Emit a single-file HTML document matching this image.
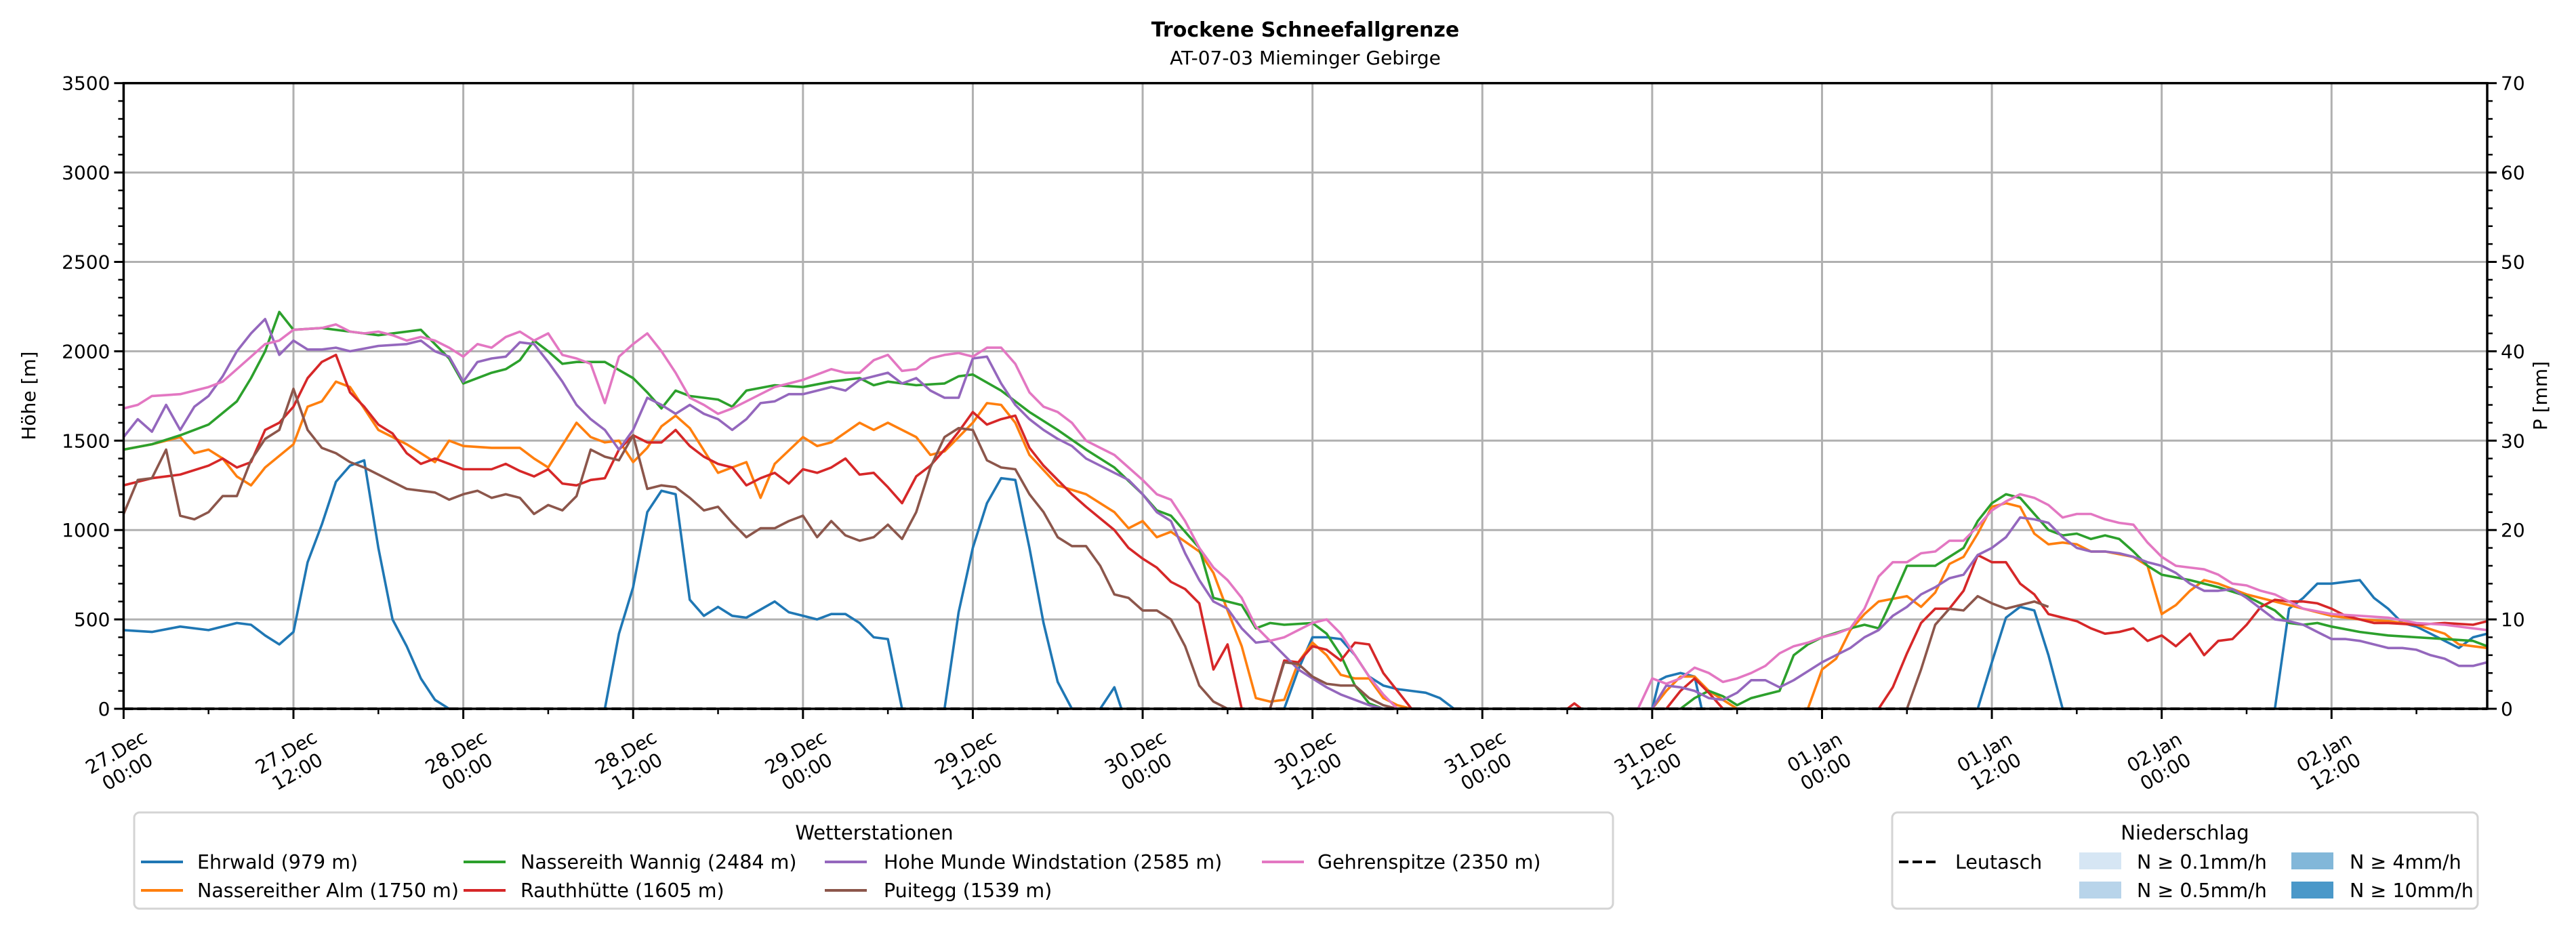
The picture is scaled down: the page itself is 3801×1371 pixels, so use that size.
<!DOCTYPE html>
<html><head><meta charset="utf-8"><style>
html,body{margin:0;padding:0;background:#fff;}
svg{display:block;font-family:"DejaVu Sans","Liberation Sans",sans-serif;}
</style></head><body>
<svg id="chart" width="3801" height="1371" viewBox="0 0 3801 1371" xmlns="http://www.w3.org/2000/svg">
<rect x="0" y="0" width="3801" height="1371" fill="#fff"/>
<text x="1926" y="54" text-anchor="middle" font-size="30" font-weight="bold">Trockene Schneefallgrenze</text>
<text x="1926" y="95" text-anchor="middle" font-size="28">AT-07-03 Mieminger Gebirge</text>
<g id="grid"></g>
<g id="series"></g>
<g id="axes"></g>
<text transform="translate(52,584) rotate(-90)" text-anchor="middle" font-size="28">Höhe [m]</text>
<text transform="translate(3758,584) rotate(-90)" text-anchor="middle" font-size="28">P [mm]</text>

<g>
<rect x="198" y="1199" width="2182" height="142" rx="8" fill="#fff" stroke="#d4d4d4" stroke-width="3"/>
<text x="1290" y="1239" text-anchor="middle" font-size="29">Wetterstationen</text>
<g><line x1="208" y1="1272" x2="270" y2="1272" stroke="#1f77b4" stroke-width="4"/><text x="291" y="1282" font-size="28.5">Ehrwald (979 m)</text></g>
<g><line x1="208" y1="1314" x2="270" y2="1314" stroke="#ff7f0e" stroke-width="4"/><text x="291" y="1324" font-size="28.5">Nassereither Alm (1750 m)</text></g>
<g><line x1="684" y1="1272" x2="746" y2="1272" stroke="#2ca02c" stroke-width="4"/><text x="768" y="1282" font-size="28.5">Nassereith Wannig (2484 m)</text></g>
<g><line x1="684" y1="1314" x2="746" y2="1314" stroke="#d62728" stroke-width="4"/><text x="768" y="1324" font-size="28.5">Rauthhütte (1605 m)</text></g>
<g><line x1="1217" y1="1272" x2="1279" y2="1272" stroke="#9467bd" stroke-width="4"/><text x="1304" y="1282" font-size="28.5">Hohe Munde Windstation (2585 m)</text></g>
<g><line x1="1217" y1="1314" x2="1279" y2="1314" stroke="#8c564b" stroke-width="4"/><text x="1304" y="1324" font-size="28.5">Puitegg (1539 m)</text></g>
<g><line x1="1862" y1="1272" x2="1924" y2="1272" stroke="#e377c2" stroke-width="4"/><text x="1944" y="1282" font-size="28.5">Gehrenspitze (2350 m)</text></g>
</g>

<g>
<rect x="2792" y="1199" width="864" height="142" rx="8" fill="#fff" stroke="#d4d4d4" stroke-width="3"/>
<text x="3224" y="1239" text-anchor="middle" font-size="29">Niederschlag</text>
<g><line x1="2802" y1="1272" x2="2862" y2="1272" stroke="#000" stroke-width="4" stroke-dasharray="14,6"/><text x="2885" y="1282" font-size="28.5">Leutasch</text></g>
<g><rect x="3068" y="1258" width="62" height="25" fill="#d6e6f4"/><text x="3153" y="1282" font-size="28.5">N ≥ 0.1mm/h</text></g>
<g><rect x="3068" y="1301" width="62" height="25" fill="#b8d4ea"/><text x="3153" y="1324" font-size="28.5">N ≥ 0.5mm/h</text></g>
<g><rect x="3381" y="1258" width="62" height="25" fill="#82b7d9"/><text x="3467" y="1282" font-size="28.5">N ≥ 4mm/h</text></g>
<g><rect x="3381" y="1301" width="62" height="25" fill="#4a98c9"/><text x="3467" y="1324" font-size="28.5">N ≥ 10mm/h</text></g>
</g>
</svg>
<script>
// x tick labels (every 12 h from 27.Dec 00:00)
const xTickDays = ["27.Dec","27.Dec","28.Dec","28.Dec","29.Dec","29.Dec","30.Dec","30.Dec","31.Dec","31.Dec","01.Jan","01.Jan","02.Jan","02.Jan"];
const xTickTimes = ["00:00","12:00","00:00","12:00","00:00","12:00","00:00","12:00","00:00","12:00","00:00","12:00","00:00","12:00"];
const yTicks = [0,500,1000,1500,2000,2500,3000,3500];
const y2Ticks = [0,10,20,30,40,50,60,70];
// [hour since 27.Dec 00:00, snowfall line m]; null = gap
const ehrwald = [[0,440],[2,430],[4,460],[6,440],[8,480],[9,470],[10,410],[11,360],[12,430],[13,820],[14,1030],[15,1270],[16,1360],[17,1390],[18,900],[19,500],[20,350],[21,170],[22,50],[23,0],[24,null],[34,0],[35,420],[36,680],[37,1100],[38,1220],[39,1200],[40,610],[41,520],[42,570],[43,520],[44,510],[46,600],[47,540],[48,520],[49,500],[50,530],[51,530],[52,480],[53,400],[54,390],[55,0],[56,null],[58,0],[59,540],[60,900],[61,1150],[62,1290],[63,1280],[64,900],[65,480],[66,150],[67,0],[68,null],[69,0],[70,120],[70.5,0],[71,null],[82,0],[83,220],[84,400],[85,400],[86,390],[87,300],[88,180],[89,130],[90,110],[91,100],[92,90],[93,60],[94,0],[95,null],[108,0],[108.5,160],[109,180],[110,200],[111,180],[111.5,0],[112,null],[131,0],[132,260],[133,510],[134,570],[135,550],[136,300],[137,0],[138,null],[152,0],[153,560],[154,620],[155,700],[156,700],[157,710],[158,720],[159,620],[160,560],[161,480],[162,460],[163,420],[164,380],[165,340],[166,400],[167,420]];
const nassAlm = [[0,1450],[2,1480],[4,1520],[5,1430],[6,1450],[7,1400],[8,1300],[9,1250],[10,1350],[12,1480],[13,1690],[14,1720],[15,1830],[16,1800],[18,1560],[20,1480],[22,1380],[23,1500],[24,1470],[26,1460],[28,1460],[29,1400],[30,1350],[32,1600],[33,1520],[34,1490],[35,1500],[36,1380],[37,1460],[38,1580],[39,1640],[40,1570],[42,1320],[44,1380],[45,1180],[46,1370],[48,1520],[49,1470],[50,1490],[52,1600],[53,1560],[54,1600],[56,1520],[57,1420],[58,1440],[60,1600],[61,1710],[62,1700],[63,1600],[64,1420],[66,1250],[68,1200],[70,1100],[71,1010],[72,1050],[73,960],[74,990],[76,880],[77,760],[78,550],[79,350],[80,60],[81,40],[82,50],[83,260],[84,370],[85,300],[86,190],[87,170],[88,170],[89,60],[90,20],[91,0],[92,null],[108,0],[109,100],[110,180],[111,180],[112,100],[113,50],[114,0],[115,null],[118,0],[119,0],[120,220],[121,280],[122,440],[123,530],[124,600],[126,630],[127,570],[128,650],[129,810],[130,850],[131,980],[132,1130],[133,1150],[134,1130],[135,980],[136,920],[137,930],[138,920],[139,880],[140,880],[142,850],[143,800],[144,530],[145,580],[146,660],[147,720],[148,700],[150,640],[152,600],[154,560],[156,520],[158,500],[160,490],[162,470],[164,420],[165,360],[166,350],[167,340]];
const nassWannig = [[0,1450],[2,1480],[4,1530],[6,1590],[8,1720],[9,1850],[10,2000],[11,2220],[12,2120],[14,2130],[16,2110],[18,2090],[20,2110],[21,2120],[22,2040],[23,1960],[24,1820],[26,1880],[27,1900],[28,1950],[29,2060],[30,2000],[31,1930],[32,1940],[34,1940],[36,1850],[37,1770],[38,1680],[39,1780],[40,1750],[42,1730],[43,1690],[44,1780],[46,1810],[48,1800],[50,1830],[52,1850],[53,1810],[54,1830],[56,1810],[58,1820],[59,1860],[60,1870],[62,1780],[64,1660],[66,1560],[68,1450],[70,1350],[72,1200],[73,1110],[74,1080],[76,900],[77,620],[78,600],[79,580],[80,450],[81,480],[82,470],[84,480],[85,420],[86,300],[87,130],[88,30],[89,0],[90,null],[110,0],[111,60],[112,100],[113,70],[114,20],[115,60],[116,80],[117,100],[118,300],[119,360],[120,400],[122,450],[123,470],[124,450],[125,620],[126,800],[128,800],[129,850],[130,900],[131,1050],[132,1150],[133,1200],[134,1180],[135,1090],[136,1000],[137,970],[138,980],[139,950],[140,970],[141,950],[142,880],[143,800],[144,750],[146,720],[148,680],[150,630],[152,550],[153,480],[154,470],[155,480],[156,460],[158,430],[160,410],[162,400],[164,390],[166,380],[167,350]];
const rauth = [[0,1250],[2,1290],[4,1310],[6,1360],[7,1400],[8,1350],[9,1380],[10,1560],[11,1600],[12,1690],[13,1850],[14,1940],[15,1980],[16,1770],[17,1690],[18,1590],[19,1540],[20,1430],[21,1370],[22,1400],[23,1370],[24,1340],[26,1340],[27,1370],[28,1330],[29,1300],[30,1340],[31,1260],[32,1250],[33,1280],[34,1290],[35,1450],[36,1530],[37,1490],[38,1490],[39,1560],[40,1470],[41,1410],[42,1370],[43,1350],[44,1250],[45,1290],[46,1320],[47,1260],[48,1340],[49,1320],[50,1350],[51,1400],[52,1310],[53,1320],[54,1240],[55,1150],[56,1300],[57,1360],[58,1450],[59,1550],[60,1660],[61,1590],[62,1620],[63,1640],[64,1460],[65,1360],[66,1280],[67,1200],[68,1130],[70,1000],[71,900],[72,840],[73,790],[74,710],[75,670],[76,590],[77,220],[78,360],[79,0],[80,null],[81,0],[82,270],[83,260],[84,350],[85,330],[86,270],[87,370],[88,360],[89,200],[90,100],[91,0],[92,null],[102,0],[102.5,30],[103,0],[104,null],[109,0],[110,100],[111,170],[112,90],[113,0],[114,null],[124,0],[125,120],[126,310],[127,480],[128,560],[129,560],[130,660],[131,860],[132,820],[133,820],[134,700],[135,640],[136,530],[138,490],[139,450],[140,420],[141,430],[142,450],[143,380],[144,410],[145,350],[146,420],[147,300],[148,380],[149,390],[150,470],[151,570],[152,610],[153,600],[154,600],[155,590],[156,560],[157,520],[158,500],[159,480],[160,480],[162,470],[164,480],[166,470],[167,490]];
const hoheMunde = [[0,1520],[1,1620],[2,1550],[3,1700],[4,1560],[5,1690],[6,1750],[7,1860],[8,2000],[9,2100],[10,2180],[11,1980],[12,2060],[13,2010],[14,2010],[15,2020],[16,2000],[18,2030],[20,2040],[21,2060],[22,2000],[23,1970],[24,1830],[25,1940],[26,1960],[27,1970],[28,2050],[29,2040],[30,1940],[31,1830],[32,1700],[33,1620],[34,1560],[35,1450],[36,1560],[37,1740],[38,1700],[39,1650],[40,1700],[41,1650],[42,1620],[43,1560],[44,1620],[45,1710],[46,1720],[47,1760],[48,1760],[50,1800],[51,1780],[52,1840],[54,1880],[55,1820],[56,1850],[57,1780],[58,1740],[59,1740],[60,1960],[61,1970],[62,1820],[63,1700],[64,1620],[65,1560],[66,1510],[67,1470],[68,1400],[69,1360],[70,1320],[71,1280],[72,1200],[73,1100],[74,1050],[75,870],[76,720],[77,600],[78,560],[79,450],[80,370],[81,380],[82,300],[83,220],[84,170],[85,120],[86,80],[87,50],[88,20],[89,0],[90,null],[108,0],[109,130],[110,120],[111,100],[112,60],[113,50],[114,90],[115,160],[116,160],[117,120],[118,160],[120,260],[121,300],[122,340],[123,400],[124,440],[125,520],[126,570],[127,640],[128,680],[129,730],[130,750],[131,860],[132,900],[133,960],[134,1070],[135,1060],[136,1040],[137,960],[138,900],[139,880],[140,880],[141,870],[142,850],[143,820],[144,800],[145,760],[146,700],[147,660],[148,660],[149,670],[150,620],[151,560],[152,500],[153,490],[154,470],[155,430],[156,390],[157,390],[158,380],[159,360],[160,340],[161,340],[162,330],[163,300],[164,280],[165,240],[166,240],[167,260]];
const puitegg = [[0,1090],[1,1280],[2,1290],[3,1450],[4,1080],[5,1060],[6,1100],[7,1190],[8,1190],[9,1390],[10,1510],[11,1560],[12,1790],[13,1560],[14,1460],[15,1430],[16,1380],[17,1350],[18,1310],[19,1270],[20,1230],[21,1220],[22,1210],[23,1170],[24,1200],[25,1220],[26,1180],[27,1200],[28,1180],[29,1090],[30,1140],[31,1110],[32,1190],[33,1450],[34,1410],[35,1390],[36,1530],[37,1230],[38,1250],[39,1240],[40,1180],[41,1110],[42,1130],[43,1040],[44,960],[45,1010],[46,1010],[47,1050],[48,1080],[49,960],[50,1050],[51,970],[52,940],[53,960],[54,1030],[55,950],[56,1100],[57,1350],[58,1520],[59,1570],[60,1560],[61,1390],[62,1350],[63,1340],[64,1200],[65,1100],[66,960],[67,910],[68,910],[69,800],[70,640],[71,620],[72,550],[73,550],[74,500],[75,350],[76,130],[77,40],[78,0],[79,null],[81,0],[82,260],[83,250],[84,180],[85,140],[86,130],[87,130],[88,60],[89,20],[90,0],[91,null],[126,0],[127,220],[128,470],[129,560],[130,550],[131,630],[132,590],[133,560],[134,580],[135,600],[136,570]];
const gehrenspitze = [[0,1680],[1,1700],[2,1750],[4,1760],[6,1800],[7,1830],[8,1900],[9,1970],[10,2040],[11,2060],[12,2120],[14,2130],[15,2150],[16,2110],[17,2100],[18,2110],[19,2090],[20,2060],[21,2080],[22,2060],[23,2020],[24,1970],[25,2040],[26,2020],[27,2080],[28,2110],[29,2060],[30,2100],[31,1980],[32,1960],[33,1930],[34,1710],[35,1970],[36,2040],[37,2100],[38,2000],[39,1880],[40,1740],[41,1700],[42,1650],[43,1680],[44,1720],[46,1800],[48,1840],[49,1870],[50,1900],[51,1880],[52,1880],[53,1950],[54,1980],[55,1890],[56,1900],[57,1960],[58,1980],[59,1990],[60,1970],[61,2020],[62,2020],[63,1930],[64,1770],[65,1690],[66,1660],[67,1600],[68,1500],[69,1460],[70,1420],[71,1350],[72,1280],[73,1200],[74,1170],[75,1050],[76,900],[77,790],[78,720],[79,620],[80,460],[81,380],[82,400],[83,440],[84,480],[85,500],[86,420],[87,300],[88,180],[89,80],[90,0],[91,null],[107,0],[108,170],[109,140],[110,170],[111,230],[112,200],[113,150],[114,170],[115,200],[116,240],[117,310],[118,350],[119,370],[120,400],[121,420],[122,450],[123,560],[124,740],[125,820],[126,820],[127,870],[128,880],[129,940],[130,940],[131,1020],[132,1110],[133,1160],[134,1200],[135,1180],[136,1140],[137,1070],[138,1090],[139,1090],[140,1060],[141,1040],[142,1030],[143,930],[144,850],[145,800],[146,790],[147,780],[148,750],[149,700],[150,690],[151,660],[152,640],[153,600],[154,560],[156,530],[158,520],[160,510],[162,480],[164,470],[166,450],[167,440]];
// Leutasch precipitation (mm per hour) — none recorded in window
const leutaschHours = [0,167];
const leutaschPrecip = [0,0];

const X0=182.4, X1=3670, HMAX=167, YB=1046, YT=122.7, YMAX=3500, PMAX=70;
const NS="http://www.w3.org/2000/svg";
function xs(h){return X0+(X1-X0)*h/HMAX;}
function ys(v){return YB-(YB-YT)*v/YMAX;}
function yp(p){return YB-(YB-YT)*p/PMAX;}
function mk(tag,attrs,parent){const e=document.createElementNS(NS,tag);for(const k in attrs)e.setAttribute(k,attrs[k]);parent.appendChild(e);return e;}
const grid=document.getElementById('grid'), axes=document.getElementById('axes'), ser=document.getElementById('series');

xTickDays.forEach((d,i)=>{
  const x=xs(i*12);
  const gl=mk('line',{x1:x,y1:YT,x2:x,y2:YB,stroke:'#b0b0b0','stroke-width':3},grid);
  
  
  const tk=mk('line',{x1:x,y1:YB,x2:x,y2:YB+15,stroke:'#000','stroke-width':3},axes);
  
  
  const mx=xs(i*12+6);
  if(i*12+6<=HMAX){const m=mk('line',{x1:mx,y1:YB,x2:mx,y2:YB+8,stroke:'#000','stroke-width':2.5},axes);
  
  }
  const t=mk('text',{transform:`translate(${x-4},${1122}) rotate(-30)`,'text-anchor':'middle','font-size':28},axes);
  
  
  mk('tspan',{x:0,y:-4},t).textContent=d;
  mk('tspan',{x:0,y:29},t).textContent=xTickTimes[i];
});
yTicks.forEach(v=>{
  const y=ys(v);
  if(v>0&&v<YMAX){const g=mk('line',{x1:X0,y1:y,x2:X1,y2:y,stroke:'#b0b0b0','stroke-width':3},grid);
  
  }
  const tk=mk('line',{x1:X0-14,y1:y,x2:X0,y2:y,stroke:'#000','stroke-width':3},axes);
  
  
  const t=mk('text',{x:X0-20,y:y+10,'text-anchor':'end','font-size':28},axes);
  
  
  t.textContent=v;
});
for(let v=100;v<YMAX;v+=100){if(v%500===0)continue;const y=ys(v);
  const m=mk('line',{x1:X0-8,y1:y,x2:X0,y2:y,stroke:'#000','stroke-width':2.5},axes);
  
  }
y2Ticks.forEach(p=>{
  const y=yp(p);
  const tk=mk('line',{x1:X1,y1:y,x2:X1+14,y2:y,stroke:'#000','stroke-width':3},axes);
  
  
  const t=mk('text',{x:X1+20,y:y+10,'font-size':28},axes);
  
  
  t.textContent=p;
});
for(let p=2;p<PMAX;p+=2){if(p%10===0)continue;const y=yp(p);
  const m=mk('line',{x1:X1,y1:y,x2:X1+8,y2:y,stroke:'#000','stroke-width':2.5},axes);
  
  }
const frame=mk('rect',{x:X0,y:YT,width:X1-X0,height:YB-YT,fill:'none',stroke:'#000','stroke-width':3.5},axes);



function pathFor(data){let d='',pen=false;for(const [h,v] of data){if(v===null){pen=false;continue;}d+=(pen?'L':'M')+xs(h).toFixed(1)+' '+ys(v).toFixed(1);pen=true;}return d;}
const seriesList=[[ehrwald,'#1f77b4','line-ehrwald'],[nassAlm,'#ff7f0e','line-nassereither-alm'],[nassWannig,'#2ca02c','line-nassereith-wannig'],[rauth,'#d62728','line-rauthhuette'],[hoheMunde,'#9467bd','line-hohe-munde'],[puitegg,'#8c564b','line-puitegg'],[gehrenspitze,'#e377c2','line-gehrenspitze']];
seriesList.forEach(([data,col,name])=>{
  const p=mk('path',{d:pathFor(data),fill:'none',stroke:col,'stroke-width':3.6,'stroke-linejoin':'round'},ser);
  
  
});
let ld='';leutaschHours.forEach((h,i)=>{ld+=(i?'L':'M')+xs(h)+' '+yp(leutaschPrecip[i]);});
const lp=mk('path',{d:ld,fill:'none',stroke:'#000','stroke-width':4,'stroke-dasharray':'14,6'},ser);


</script>
</body></html>
